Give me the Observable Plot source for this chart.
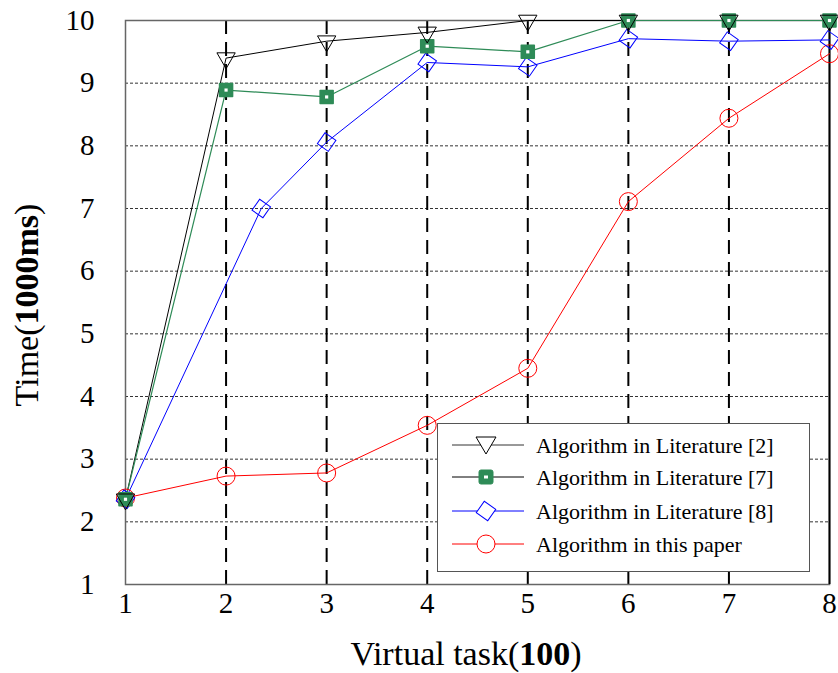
<!DOCTYPE html>
<html><head><meta charset="utf-8">
<script src="https://cdn.jsdelivr.net/npm/d3@7"></script>
<script src="https://cdn.jsdelivr.net/npm/@observablehq/plot@0.6"></script>
<style>
body{margin:0;background:#fff;}
#wrap{position:relative;width:838px;height:673px;font-family:"Liberation Serif","Times New Roman",serif;}
#legend{position:absolute;left:437px;top:423px;width:373px;height:149px;border:1.5px solid #555;background:#fff;box-sizing:border-box;}
#legend svg{display:block;}
</style></head><body>
<div id="wrap"><div id="legend"></div></div>
<script>
// ---- data ----
const tasks = [1, 2, 3, 4, 5, 6, 7, 8];
const lit2 = [2.36, 9.4, 9.67, 9.81, 10, 10, 10, 10];
const lit7 = [2.36, 8.89, 8.78, 9.59, 9.5, 10, 10, 10];
const lit8Tasks = [1, 2.35, 3, 4, 5, 6, 7, 8];
const lit8 = [2.36, 7.0, 8.06, 9.33, 9.26, 9.71, 9.67, 9.69];
const paper = [2.38, 2.73, 2.78, 3.54, 4.45, 7.11, 8.44, 9.47];
const seriesNames = ["Algorithm in Literature [2]", "Algorithm in Literature [7]", "Algorithm in Literature [8]", "Algorithm in this paper"];
const xTicks = [1, 2, 3, 4, 5, 6, 7, 8];
const yTicks = [1, 2, 3, 4, 5, 6, 7, 8, 9, 10];

const rows = (xs, ys) => xs.map((x, i) => ({x, y: ys[i]}));
const r2 = rows(tasks, lit2), r7 = rows(tasks, lit7), r8 = rows(lit8Tasks, lit8), rp = rows(tasks, paper);

const green = "#2e8b57";
const chart = Plot.plot({
  width: 838, height: 673,
  marginLeft: 125, marginRight: 9, marginTop: 20, marginBottom: 89,
  style: {fontFamily: "Liberation Serif, Times New Roman, serif", fontSize: "29px", background: "white"},
  x: {domain: [1, 8], ticks: xTicks, tickSize: 0, tickPadding: 8, label: null, tickFormat: d => String(d)},
  y: {domain: [1, 10], ticks: yTicks, tickSize: 0, tickPadding: 31, label: null, tickFormat: d => String(d)},
  marks: [
    Plot.ruleY(yTicks.filter(d => d > 1 && d < 10), {stroke: "#333", strokeWidth: 1, strokeDasharray: "3,2"}),
    Plot.ruleX(xTicks.filter(d => d > 1 && d < 8), {stroke: "#000", strokeWidth: 2, strokeDasharray: "14,8"}),
    Plot.frame({stroke: "#666", strokeWidth: 1.5}),
    Plot.ruleX([8], {stroke: "#000", strokeWidth: 2}),
    Plot.line(r2, {x: "x", y: "y", stroke: "#000", strokeWidth: 1}),
    Plot.line(r7, {x: "x", y: "y", stroke: green, strokeWidth: 1.2}),
    Plot.line(r8, {x: "x", y: "y", stroke: "#0000ff", strokeWidth: 1}),
    Plot.line(rp, {x: "x", y: "y", stroke: "#ff0000", strokeWidth: 1}),
    Plot.dot(rp, {x: "x", y: "y", r: 9, stroke: "#ff0000", fill: "none", strokeWidth: 1}),
    Plot.dot(r8, {x: "x", y: "y", symbol: "square", r: 7.5, rotate: 35, stroke: "#0000ff", fill: "none", strokeWidth: 1}),
    Plot.dot(r7, {x: "x", y: "y", symbol: "square", r: 7.3, fill: green, stroke: green, strokeWidth: 1.6, strokeLinejoin: "round"}),
    Plot.dot(r7, {x: "x", y: "y", symbol: "square", r: 1.8, fill: "white", stroke: "none"}),
    Plot.dot(r2, {x: "x", y: "y", symbol: "triangle", r: 6.8, rotate: 180, stroke: "#000", fill: "none", strokeWidth: 1})
  ]
});
document.getElementById("wrap").prepend(chart);

// axis titles with partially bold text
const svg = d3.select(chart);
const xt = svg.append("text").attr("x", 466).attr("y", 665).attr("text-anchor", "middle")
  .style("font-size", "34px").style("font-family", "Liberation Serif, serif").attr("fill", "#000");
xt.append("tspan").text("Virtual task(");
xt.append("tspan").attr("font-weight", "bold").text("100");
xt.append("tspan").text(")");
const yt = svg.append("text").attr("transform", "translate(38,305) rotate(-90)").attr("text-anchor", "middle")
  .style("font-size", "34px").style("font-family", "Liberation Serif, serif").attr("fill", "#000");
yt.append("tspan").text("Time(");
yt.append("tspan").attr("font-weight", "bold").text("1000ms");
yt.append("tspan").text(")");

// legend
const lg = d3.select("#legend").append("svg").attr("width", 370).attr("height", 146)
  .style("font-family", "Liberation Serif, serif").style("font-size", "22px");
const rowY = [21, 53, 87, 120];
const lineCol = ["#333", "#000", "#0000ff", "#ff0000"];
seriesNames.forEach((name, i) => {
  const g = lg.append("g").attr("transform", `translate(0,${rowY[i]})`);
  g.append("line").attr("x1", 14).attr("x2", 86).attr("y1", 0).attr("y2", 0).attr("stroke", lineCol[i]).attr("stroke-width", 1);
  const m = g.append("g").attr("transform", "translate(48,0)");
  if (i === 0) m.append("path").attr("d", "M-10,-8L10,-8L0,9Z").attr("fill", "white").attr("stroke", "#000");
  if (i === 1) {
    m.append("rect").attr("x", -7).attr("y", -7).attr("width", 14).attr("height", 14).attr("rx", 2).attr("fill", green).attr("stroke", green);
    m.append("rect").attr("x", -2).attr("y", -1.5).attr("width", 4).attr("height", 3).attr("fill", "white");
  }
  if (i === 2) m.append("rect").attr("x", -7).attr("y", -7).attr("width", 14).attr("height", 14).attr("transform", "rotate(35)").attr("fill", "white").attr("stroke", "#0000ff");
  if (i === 3) m.append("circle").attr("r", 9).attr("fill", "white").attr("stroke", "#ff0000");
  g.append("text").attr("x", 98).attr("y", 0).attr("dy", "0.35em").attr("fill", "#000").text(name);
});
</script>
</body></html>
